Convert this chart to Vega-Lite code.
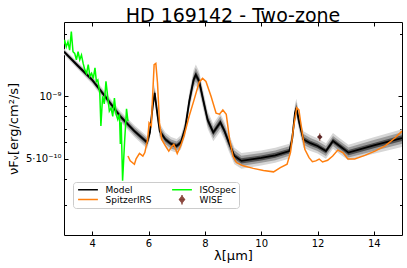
{
  "$schema": "https://vega.github.io/schema/vega-lite/v6.json",
  "width": 338,
  "height": 213,
  "autosize": {"type": "none"},
  "padding": {"left": 64, "top": 22, "right": 5, "bottom": 33},
  "title": {"text": "HD 169142 - Two-zone", "fontSize": 19, "font": "DejaVu Sans", "fontWeight": "normal", "color": "black", "offset": -4},
  "config": {
    "font": "DejaVu Sans",
    "view": {"stroke": "black", "strokeWidth": 1},
    "axis": {"grid": false, "domain": false, "tickColor": "black", "labelColor": "black", "titleColor": "black", "labelFont": "DejaVu Sans", "titleFont": "DejaVu Sans", "titleFontWeight": "normal"}
  },
  "datasets": {
    "model": [
      {"wavelength": 3.0, "flux": 16.4e-10, "lo3": 15.88e-10, "lo2": 16.06e-10, "lo1": 16.22e-10, "hi1": 16.58e-10, "hi2": 16.74e-10, "hi3": 16.94e-10},
      {"wavelength": 3.5, "flux": 14.0e-10, "lo3": 13.47e-10, "lo2": 13.65e-10, "lo1": 13.82e-10, "hi1": 14.18e-10, "hi2": 14.36e-10, "hi3": 14.56e-10},
      {"wavelength": 4.0, "flux": 12.0e-10, "lo3": 11.46e-10, "lo2": 11.65e-10, "lo1": 11.82e-10, "hi1": 12.18e-10, "hi2": 12.36e-10, "hi3": 12.56e-10},
      {"wavelength": 4.46, "flux": 10.0e-10, "lo3": 9.51e-10, "lo2": 9.68e-10, "lo1": 9.83e-10, "hi1": 10.17e-10, "hi2": 10.33e-10, "hi3": 10.52e-10},
      {"wavelength": 5.0, "flux": 8.0e-10, "lo3": 7.55e-10, "lo2": 7.70e-10, "lo1": 7.85e-10, "hi1": 8.15e-10, "hi2": 8.30e-10, "hi3": 8.47e-10},
      {"wavelength": 5.5, "flux": 6.8e-10, "lo3": 6.37e-10, "lo2": 6.52e-10, "lo1": 6.66e-10, "hi1": 6.94e-10, "hi2": 7.09e-10, "hi3": 7.26e-10},
      {"wavelength": 5.95, "flux": 6.0e-10, "lo3": 5.60e-10, "lo2": 5.74e-10, "lo1": 5.87e-10, "hi1": 6.14e-10, "hi2": 6.28e-10, "hi3": 6.43e-10},
      {"wavelength": 6.05, "flux": 6.7e-10, "lo3": 6.22e-10, "lo2": 6.39e-10, "lo1": 6.55e-10, "hi1": 6.86e-10, "hi2": 7.03e-10, "hi3": 7.21e-10},
      {"wavelength": 6.15, "flux": 9.0e-10, "lo3": 8.29e-10, "lo2": 8.53e-10, "lo1": 8.76e-10, "hi1": 9.25e-10, "hi2": 9.50e-10, "hi3": 9.77e-10},
      {"wavelength": 6.22, "flux": 10.4e-10, "lo3": 9.48e-10, "lo2": 9.80e-10, "lo1": 10.10e-10, "hi1": 10.71e-10, "hi2": 11.04e-10, "hi3": 11.40e-10},
      {"wavelength": 6.3, "flux": 8.5e-10, "lo3": 7.79e-10, "lo2": 8.03e-10, "lo1": 8.26e-10, "hi1": 8.75e-10, "hi2": 8.99e-10, "hi3": 9.27e-10},
      {"wavelength": 6.4, "flux": 6.8e-10, "lo3": 6.28e-10, "lo2": 6.45e-10, "lo1": 6.62e-10, "hi1": 6.98e-10, "hi2": 7.17e-10, "hi3": 7.37e-10},
      {"wavelength": 6.6, "flux": 6.2e-10, "lo3": 5.75e-10, "lo2": 5.90e-10, "lo1": 6.05e-10, "hi1": 6.36e-10, "hi2": 6.52e-10, "hi3": 6.69e-10},
      {"wavelength": 6.8, "flux": 5.9e-10, "lo3": 5.47e-10, "lo2": 5.61e-10, "lo1": 5.76e-10, "hi1": 6.05e-10, "hi2": 6.20e-10, "hi3": 6.37e-10},
      {"wavelength": 7.0, "flux": 5.77e-10, "lo3": 5.35e-10, "lo2": 5.49e-10, "lo1": 5.63e-10, "hi1": 5.91e-10, "hi2": 6.06e-10, "hi3": 6.23e-10},
      {"wavelength": 7.15, "flux": 6.0e-10, "lo3": 5.55e-10, "lo2": 5.71e-10, "lo1": 5.85e-10, "hi1": 6.16e-10, "hi2": 6.31e-10, "hi3": 6.49e-10},
      {"wavelength": 7.3, "flux": 7.0e-10, "lo3": 6.42e-10, "lo2": 6.62e-10, "lo1": 6.80e-10, "hi1": 7.20e-10, "hi2": 7.41e-10, "hi3": 7.64e-10},
      {"wavelength": 7.45, "flux": 9.5e-10, "lo3": 8.61e-10, "lo2": 8.91e-10, "lo1": 9.20e-10, "hi1": 9.81e-10, "hi2": 10.13e-10, "hi3": 10.49e-10},
      {"wavelength": 7.6, "flux": 12.0e-10, "lo3": 10.74e-10, "lo2": 11.16e-10, "lo1": 11.57e-10, "hi1": 12.44e-10, "hi2": 12.90e-10, "hi3": 13.40e-10},
      {"wavelength": 7.68, "flux": 12.7e-10, "lo3": 11.32e-10, "lo2": 11.79e-10, "lo1": 12.22e-10, "hi1": 13.20e-10, "hi2": 13.69e-10, "hi3": 14.25e-10},
      {"wavelength": 7.8, "flux": 11.8e-10, "lo3": 10.56e-10, "lo2": 10.97e-10, "lo1": 11.38e-10, "hi1": 12.24e-10, "hi2": 12.69e-10, "hi3": 13.18e-10},
      {"wavelength": 7.95, "flux": 9.5e-10, "lo3": 8.57e-10, "lo2": 8.88e-10, "lo1": 9.18e-10, "hi1": 9.83e-10, "hi2": 10.16e-10, "hi3": 10.54e-10},
      {"wavelength": 8.1, "flux": 7.7e-10, "lo3": 6.98e-10, "lo2": 7.22e-10, "lo1": 7.45e-10, "hi1": 7.95e-10, "hi2": 8.21e-10, "hi3": 8.50e-10},
      {"wavelength": 8.3, "flux": 6.7e-10, "lo3": 6.08e-10, "lo2": 6.29e-10, "lo1": 6.49e-10, "hi1": 6.91e-10, "hi2": 7.14e-10, "hi3": 7.38e-10},
      {"wavelength": 8.55, "flux": 7.5e-10, "lo3": 6.77e-10, "lo2": 7.02e-10, "lo1": 7.25e-10, "hi1": 7.76e-10, "hi2": 8.01e-10, "hi3": 8.30e-10},
      {"wavelength": 8.7, "flux": 6.8e-10, "lo3": 6.16e-10, "lo2": 6.38e-10, "lo1": 6.58e-10, "hi1": 7.02e-10, "hi2": 7.25e-10, "hi3": 7.51e-10},
      {"wavelength": 8.85, "flux": 6.0e-10, "lo3": 5.44e-10, "lo2": 5.63e-10, "lo1": 5.81e-10, "hi1": 6.19e-10, "hi2": 6.39e-10, "hi3": 6.61e-10},
      {"wavelength": 9.05, "flux": 5.16e-10, "lo3": 4.71e-10, "lo2": 4.86e-10, "lo1": 5.01e-10, "hi1": 5.31e-10, "hi2": 5.48e-10, "hi3": 5.66e-10},
      {"wavelength": 9.3, "flux": 4.89e-10, "lo3": 4.48e-10, "lo2": 4.62e-10, "lo1": 4.75e-10, "hi1": 5.03e-10, "hi2": 5.17e-10, "hi3": 5.33e-10},
      {"wavelength": 10.0, "flux": 5.05e-10, "lo3": 4.65e-10, "lo2": 4.79e-10, "lo1": 4.91e-10, "hi1": 5.19e-10, "hi2": 5.33e-10, "hi3": 5.48e-10},
      {"wavelength": 10.5, "flux": 5.2e-10, "lo3": 4.79e-10, "lo2": 4.93e-10, "lo1": 5.06e-10, "hi1": 5.35e-10, "hi2": 5.49e-10, "hi3": 5.65e-10},
      {"wavelength": 11.0, "flux": 5.45e-10, "lo3": 5.02e-10, "lo2": 5.17e-10, "lo1": 5.30e-10, "hi1": 5.60e-10, "hi2": 5.75e-10, "hi3": 5.92e-10},
      {"wavelength": 11.1, "flux": 6.2e-10, "lo3": 5.69e-10, "lo2": 5.86e-10, "lo1": 6.03e-10, "hi1": 6.38e-10, "hi2": 6.56e-10, "hi3": 6.76e-10},
      {"wavelength": 11.2, "flux": 8.3e-10, "lo3": 7.53e-10, "lo2": 7.79e-10, "lo1": 8.04e-10, "hi1": 8.57e-10, "hi2": 8.84e-10, "hi3": 9.15e-10},
      {"wavelength": 11.25, "flux": 8.8e-10, "lo3": 7.95e-10, "lo2": 8.24e-10, "lo1": 8.51e-10, "hi1": 9.10e-10, "hi2": 9.40e-10, "hi3": 9.74e-10},
      {"wavelength": 11.35, "flux": 7.5e-10, "lo3": 6.80e-10, "lo2": 7.04e-10, "lo1": 7.27e-10, "hi1": 7.74e-10, "hi2": 7.99e-10, "hi3": 8.27e-10},
      {"wavelength": 11.5, "flux": 6.2e-10, "lo3": 5.65e-10, "lo2": 5.84e-10, "lo1": 6.02e-10, "hi1": 6.39e-10, "hi2": 6.58e-10, "hi3": 6.80e-10},
      {"wavelength": 11.75, "flux": 5.95e-10, "lo3": 5.46e-10, "lo2": 5.62e-10, "lo1": 5.78e-10, "hi1": 6.12e-10, "hi2": 6.30e-10, "hi3": 6.49e-10},
      {"wavelength": 12.0, "flux": 5.77e-10, "lo3": 5.30e-10, "lo2": 5.46e-10, "lo1": 5.61e-10, "hi1": 5.93e-10, "hi2": 6.10e-10, "hi3": 6.28e-10},
      {"wavelength": 12.3, "flux": 5.45e-10, "lo3": 5.00e-10, "lo2": 5.16e-10, "lo1": 5.30e-10, "hi1": 5.60e-10, "hi2": 5.76e-10, "hi3": 5.94e-10},
      {"wavelength": 12.55, "flux": 6.1e-10, "lo3": 5.59e-10, "lo2": 5.76e-10, "lo1": 5.93e-10, "hi1": 6.28e-10, "hi2": 6.45e-10, "hi3": 6.66e-10},
      {"wavelength": 12.8, "flux": 5.75e-10, "lo3": 5.27e-10, "lo2": 5.43e-10, "lo1": 5.59e-10, "hi1": 5.92e-10, "hi2": 6.08e-10, "hi3": 6.27e-10},
      {"wavelength": 13.1, "flux": 5.36e-10, "lo3": 4.92e-10, "lo2": 5.07e-10, "lo1": 5.21e-10, "hi1": 5.52e-10, "hi2": 5.67e-10, "hi3": 5.85e-10},
      {"wavelength": 14.0, "flux": 5.8e-10, "lo3": 5.29e-10, "lo2": 5.46e-10, "lo1": 5.63e-10, "hi1": 5.97e-10, "hi2": 6.16e-10, "hi3": 6.36e-10},
      {"wavelength": 15.0, "flux": 6.3e-10, "lo3": 5.71e-10, "lo2": 5.92e-10, "lo1": 6.10e-10, "hi1": 6.50e-10, "hi2": 6.71e-10, "hi3": 6.94e-10}
    ],
    "spitzer": [
      {"wavelength": 5.27, "flux": 5.16e-10}, {"wavelength": 5.35, "flux": 4.89e-10}, {"wavelength": 5.5, "flux": 4.71e-10},
      {"wavelength": 5.56, "flux": 5.0e-10}, {"wavelength": 5.68, "flux": 5.31e-10}, {"wavelength": 5.8, "flux": 5.16e-10},
      {"wavelength": 5.87, "flux": 5.36e-10}, {"wavelength": 5.97, "flux": 6.2e-10}, {"wavelength": 6.02, "flux": 7.45e-10},
      {"wavelength": 6.1, "flux": 7.2e-10}, {"wavelength": 6.14, "flux": 9.6e-10}, {"wavelength": 6.2, "flux": 14.2e-10},
      {"wavelength": 6.26, "flux": 14.4e-10}, {"wavelength": 6.32, "flux": 11.6e-10}, {"wavelength": 6.39, "flux": 7.45e-10},
      {"wavelength": 6.47, "flux": 6.2e-10}, {"wavelength": 6.6, "flux": 5.77e-10}, {"wavelength": 6.72, "flux": 5.45e-10},
      {"wavelength": 6.84, "flux": 5.77e-10}, {"wavelength": 6.9, "flux": 5.87e-10}, {"wavelength": 7.02, "flux": 5.31e-10},
      {"wavelength": 7.14, "flux": 5.77e-10}, {"wavelength": 7.26, "flux": 6.44e-10}, {"wavelength": 7.44, "flux": 8.0e-10},
      {"wavelength": 7.62, "flux": 9.64e-10}, {"wavelength": 7.8, "flux": 11.7e-10}, {"wavelength": 7.92, "flux": 12.2e-10},
      {"wavelength": 8.04, "flux": 11.8e-10}, {"wavelength": 8.22, "flux": 10.0e-10}, {"wavelength": 8.4, "flux": 8.3e-10},
      {"wavelength": 8.52, "flux": 8.2e-10}, {"wavelength": 8.64, "flux": 8.6e-10}, {"wavelength": 8.76, "flux": 8.2e-10},
      {"wavelength": 8.88, "flux": 6.2e-10}, {"wavelength": 9.0, "flux": 5.16e-10}, {"wavelength": 9.12, "flux": 4.8e-10},
      {"wavelength": 9.36, "flux": 4.63e-10}, {"wavelength": 9.72, "flux": 4.5e-10}, {"wavelength": 10.08, "flux": 4.4e-10},
      {"wavelength": 10.44, "flux": 4.33e-10}, {"wavelength": 10.68, "flux": 4.54e-10}, {"wavelength": 10.92, "flux": 4.71e-10},
      {"wavelength": 11.04, "flux": 5.36e-10}, {"wavelength": 11.14, "flux": 6.93e-10}, {"wavelength": 11.26, "flux": 8.8e-10},
      {"wavelength": 11.34, "flux": 8.6e-10}, {"wavelength": 11.43, "flux": 7.06e-10}, {"wavelength": 11.55, "flux": 5.56e-10},
      {"wavelength": 11.7, "flux": 5.07e-10}, {"wavelength": 11.82, "flux": 4.85e-10}, {"wavelength": 11.94, "flux": 4.89e-10},
      {"wavelength": 12.06, "flux": 4.99e-10}, {"wavelength": 12.18, "flux": 4.83e-10}, {"wavelength": 12.36, "flux": 4.92e-10},
      {"wavelength": 12.54, "flux": 5.16e-10}, {"wavelength": 12.72, "flux": 5.51e-10}, {"wavelength": 12.9, "flux": 5.36e-10},
      {"wavelength": 13.08, "flux": 4.99e-10}, {"wavelength": 13.32, "flux": 4.99e-10}, {"wavelength": 13.68, "flux": 5.2e-10},
      {"wavelength": 14.04, "flux": 5.45e-10}, {"wavelength": 14.4, "flux": 5.77e-10}, {"wavelength": 14.76, "flux": 6.32e-10},
      {"wavelength": 15.0, "flux": 6.8e-10}
    ],
    "iso": [
      {"wavelength": 2.96, "flux": 17.1e-10}, {"wavelength": 3.02, "flux": 18.7e-10}, {"wavelength": 3.08, "flux": 17.3e-10},
      {"wavelength": 3.14, "flux": 18.3e-10}, {"wavelength": 3.2, "flux": 16.7e-10}, {"wavelength": 3.26, "flux": 20.5e-10},
      {"wavelength": 3.32, "flux": 16.4e-10}, {"wavelength": 3.38, "flux": 16.1e-10}, {"wavelength": 3.44, "flux": 15.0e-10},
      {"wavelength": 3.5, "flux": 16.4e-10}, {"wavelength": 3.56, "flux": 15.0e-10}, {"wavelength": 3.62, "flux": 15.8e-10},
      {"wavelength": 3.68, "flux": 14.4e-10}, {"wavelength": 3.74, "flux": 13.4e-10}, {"wavelength": 3.8, "flux": 12.9e-10},
      {"wavelength": 3.86, "flux": 14.2e-10}, {"wavelength": 3.92, "flux": 12.5e-10}, {"wavelength": 3.98, "flux": 12.9e-10},
      {"wavelength": 4.04, "flux": 12.2e-10}, {"wavelength": 4.1, "flux": 13.7e-10}, {"wavelength": 4.15, "flux": 11.8e-10},
      {"wavelength": 4.2, "flux": 12.0e-10}, {"wavelength": 4.27, "flux": 10.4e-10}, {"wavelength": 4.31, "flux": 7.2e-10},
      {"wavelength": 4.37, "flux": 10.0e-10}, {"wavelength": 4.43, "flux": 9.2e-10}, {"wavelength": 4.49, "flux": 11.8e-10},
      {"wavelength": 4.55, "flux": 10.0e-10}, {"wavelength": 4.61, "flux": 8.5e-10}, {"wavelength": 4.67, "flux": 8.8e-10},
      {"wavelength": 4.73, "flux": 8.0e-10}, {"wavelength": 4.79, "flux": 9.8e-10}, {"wavelength": 4.85, "flux": 8.2e-10},
      {"wavelength": 4.91, "flux": 7.74e-10}, {"wavelength": 4.97, "flux": 8.2e-10}, {"wavelength": 5.0, "flux": 5.9e-10},
      {"wavelength": 5.03, "flux": 7.5e-10}, {"wavelength": 5.08, "flux": 3.92e-10}, {"wavelength": 5.15, "flux": 6.0e-10},
      {"wavelength": 5.22, "flux": 8.7e-10}, {"wavelength": 5.27, "flux": 7.6e-10}
    ],
    "wise": [
      {"wavelength": 12.08, "flux": 6.37e-10, "flux_lo": 6.1e-10, "flux_hi": 6.65e-10}
    ]
  },
  "resolve": {"axis": {"x": "independent", "y": "independent"}},
  "layer": [
    {
      "data": {"name": "model"},
      "mark": {"type": "area", "color": "#d6d6d6", "clip": true},
      "encoding": {
        "x": {"field": "wavelength", "type": "quantitative", "scale": {"domain": [3, 15], "nice": false, "zero": false},
              "axis": {"orient": "bottom", "values": [4, 6, 8, 10, 12, 14], "tickSize": -4, "labelFontSize": 10, "labelPadding": 7, "title": "λ[μm]", "titleFontSize": 13, "titlePadding": 1}},
        "y": {"field": "lo3", "type": "quantitative", "scale": {"type": "log", "domain": [2.15e-10, 2.28e-9], "nice": false},
              "axis": {"orient": "left", "values": [3e-10, 4e-10, 5e-10, 6e-10, 7e-10, 8e-10, 9e-10, 1e-9, 2e-9],
                       "tickSize": {"condition": {"test": "(datum.value > 9.9e-10 && datum.value < 1.01e-9) || (datum.value > 4.9e-10 && datum.value < 5.1e-10)", "value": -4}, "value": -2.5},
                       "labelExpr": "datum.value > 9.9e-10 && datum.value < 1.01e-9 ? '10⁻⁹' : (datum.value > 4.9e-10 && datum.value < 5.1e-10 ? '5·10⁻¹⁰' : '')",
                       "labelFontSize": 10, "labelPadding": 7, "title": "νFᵥ[erg/cm²/s]", "titleFontSize": 13, "titlePadding": 5}},
        "y2": {"field": "hi3"}
      }
    },
    {
      "data": {"name": "model"},
      "mark": {"type": "area", "color": "#9c9c9c", "clip": true},
      "encoding": {
        "x": {"field": "wavelength", "type": "quantitative",
              "axis": {"orient": "top", "values": [4, 6, 8, 10, 12, 14], "tickSize": -4, "labels": false, "title": null}},
        "y": {"field": "lo2", "type": "quantitative",
              "axis": {"orient": "right", "values": [3e-10, 4e-10, 5e-10, 6e-10, 7e-10, 8e-10, 9e-10, 1e-9, 2e-9],
                       "tickSize": {"condition": {"test": "(datum.value > 9.9e-10 && datum.value < 1.01e-9) || (datum.value > 4.9e-10 && datum.value < 5.1e-10)", "value": -4}, "value": -2.5},
                       "labels": false, "title": null}},
        "y2": {"field": "hi2"}
      }
    },
    {
      "data": {"name": "model"},
      "mark": {"type": "area", "color": "#505050", "clip": true},
      "encoding": {
        "x": {"field": "wavelength", "type": "quantitative", "axis": null},
        "y": {"field": "lo1", "type": "quantitative", "axis": null},
        "y2": {"field": "hi1"}
      }
    },
    {
      "data": {"name": "model"},
      "mark": {"type": "line", "strokeWidth": 1.8, "clip": true},
      "encoding": {
        "x": {"field": "wavelength", "type": "quantitative", "axis": null},
        "y": {"field": "flux", "type": "quantitative", "axis": null},
        "color": {"datum": "Model", "type": "nominal",
                  "scale": {"domain": ["Model", "SpitzerIRS", "ISOspec", "WISE"], "range": ["black", "#ff7f0e", "#00ff00", "#8c4a40"]},
                  "legend": {"orient": "none", "legendX": 9, "legendY": 160, "columns": 2, "columnPadding": 18, "rowPadding": 0,
                             "title": null, "labelFontSize": 9, "labelFont": "DejaVu Sans", "labelColor": "black", "padding": 3,
                             "strokeColor": "#cccccc", "fillColor": "white", "cornerRadius": 3, "clipHeight": 9,
                             "symbolSize": 81, "symbolStrokeWidth": 1.5, "symbolOffset": 6.5, "labelOffset": 12,
                             "symbolType": "M-2.2,0H2.2",
                             "encode": {"symbols": {"update": {
                               "shape": {"signal": "datum.value === 'WISE' ? 'M0,-1.6V1.6M0,-0.7L0.55,0L0,0.7L-0.55,0Z' : 'M-2.2,0H2.2'"},
                               "fill": {"signal": "datum.value === 'WISE' ? '#5c2626' : 'transparent'"}}}}}}
      }
    },
    {
      "data": {"name": "iso"},
      "mark": {"type": "line", "strokeWidth": 1.5, "clip": true},
      "encoding": {
        "x": {"field": "wavelength", "type": "quantitative", "axis": null},
        "y": {"field": "flux", "type": "quantitative", "axis": null},
        "color": {"datum": "ISOspec", "type": "nominal"}
      }
    },
    {
      "data": {"name": "spitzer"},
      "mark": {"type": "line", "strokeWidth": 1.5, "clip": true},
      "encoding": {
        "x": {"field": "wavelength", "type": "quantitative", "axis": null},
        "y": {"field": "flux", "type": "quantitative", "axis": null},
        "color": {"datum": "SpitzerIRS", "type": "nominal"}
      }
    },
    {
      "data": {"name": "wise"},
      "mark": {"type": "rule", "strokeWidth": 1.2, "color": "#b07a6a"},
      "encoding": {
        "x": {"field": "wavelength", "type": "quantitative", "axis": null},
        "y": {"field": "flux_lo", "type": "quantitative", "axis": null},
        "y2": {"field": "flux_hi"}
      }
    },
    {
      "data": {"name": "wise"},
      "mark": {"type": "point", "shape": "diamond", "filled": true, "size": 30, "opacity": 1, "color": "#5c2626"},
      "encoding": {
        "x": {"field": "wavelength", "type": "quantitative", "axis": null},
        "y": {"field": "flux", "type": "quantitative", "axis": null}
      }
    }
  ]
}
